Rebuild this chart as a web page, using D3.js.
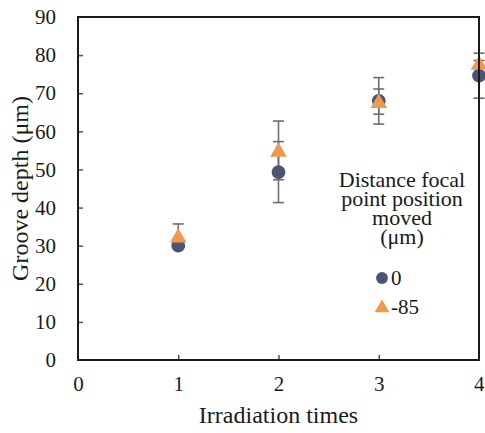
<!DOCTYPE html>
<html><head><meta charset="utf-8">
<script src="https://cdn.jsdelivr.net/npm/d3@7"></script>
<style>body{margin:0;background:#fff}svg{display:block}</style>
</head><body><svg id="c" width="485" height="433"></svg>
<script>
const irradiation = [1, 2, 3, 4];
const seriesNames = ["0", "-85"];
const depth0 = [30.0, 49.3, 68.0, 74.6];
const err0 = [0.5, 8.0, 6.1, 5.9];
const depth85 = [32.5, 55.0, 67.8, 77.8];
const err85 = [3.2, 7.7, 3.3, 0.8];
const xTicks = [0, 1, 2, 3, 4];
const yTicks = [0, 10, 20, 30, 40, 50, 60, 70, 80, 90];
const colors = ["#4a5574", "#ee9a4e"];
const FONT = "Liberation Serif";

const svg = d3.select("#c");
const L = 78, R = 479, T = 17, B = 360;
const x = d3.scaleLinear().domain([0, 4]).range([L, R]);
const y = d3.scaleLinear().domain([0, 90]).range([B, T]);

// ticks
const yAx = svg.append("g").attr("transform", `translate(${L},0)`)
  .call(d3.axisLeft(y).tickValues(yTicks).tickFormat(d3.format("d")).tickSizeInner(-5).tickSizeOuter(0).tickPadding(22));
const xAx = svg.append("g").attr("transform", `translate(0,${B})`)
  .call(d3.axisBottom(x).tickValues(xTicks).tickFormat(d3.format("d")).tickSizeInner(-5).tickSizeOuter(0).tickPadding(16));
[yAx, xAx].forEach(g => {
  g.attr("font-family", FONT).attr("font-size", 21);
  g.select(".domain").remove();
  g.selectAll("line").attr("stroke", "#555").attr("stroke-width", 1.5);
  g.selectAll("text").attr("fill", "#1a1a1a").attr("font-family", FONT);
});
yAx.selectAll(".tick").filter(d => d === 0 || d === 90).select("line").remove();
xAx.selectAll(".tick").filter(d => d === 0 || d === 4).select("line").remove();
xAx.selectAll(".tick").filter(d => d === 4).select("text").attr("text-anchor", "end").attr("dx", "5");

const series = [
  { name: seriesNames[0], v: depth0, e: err0, shape: d3.symbolCircle, size: 150 },
  { name: seriesNames[1], v: depth85, e: err85, shape: d3.symbolTriangle, size: 120 }
];

// error bars
series.forEach(s => {
  const g = svg.append("g");
  irradiation.forEach((t, i) => {
    const cx = x(t), y1 = y(s.v[i] + s.e[i]), y0 = y(s.v[i] - s.e[i]);
    g.append("line").attr("x1", cx).attr("x2", cx).attr("y1", y1).attr("y2", y0)
      .attr("stroke", "#6e6e6e").attr("stroke-width", 1.6);
    [y1, y0].forEach(yy => g.append("line").attr("x1", cx - 5.5).attr("x2", cx + 5.5)
      .attr("y1", yy).attr("y2", yy).attr("stroke", "#6e6e6e").attr("stroke-width", 1.6));
  });
});

// markers
series.forEach((s, k) => {
  svg.append("g").selectAll("path").data(irradiation).join("path")
    .attr("transform", (t, i) => `translate(${x(t)},${y(s.v[i]) + (k === 1 ? 1.5 : 0)})`)
    .attr("d", d3.symbol().type(s.shape).size(s.size))
    .attr("fill", colors[k]);
});

// frame
svg.append("rect").attr("x", L).attr("y", T).attr("width", R - L).attr("height", B - T)
  .attr("fill", "none").attr("stroke", "#1a1a1a").attr("stroke-width", 2);

// axis titles
svg.append("text").attr("x", (L + R) / 2).attr("y", 423).attr("text-anchor", "middle")
  .attr("font-family", FONT).attr("font-size", 24).attr("fill", "#1a1a1a").text("Irradiation times");
svg.append("text").attr("transform", `translate(28,${(T + B) / 2}) rotate(-90)`)
  .attr("text-anchor", "middle").attr("font-family", FONT).attr("font-size", 24)
  .attr("fill", "#1a1a1a").text("Groove depth (μm)");

// legend
const legTitle = ["Distance focal", "point position", "moved", "(μm)"];
svg.append("g").selectAll("text").data(legTitle).join("text")
  .attr("x", 402).attr("y", (d, i) => 187 + i * 19).attr("text-anchor", "middle")
  .attr("font-family", FONT).attr("font-size", 22).attr("fill", "#1a1a1a").text(d => d);
series.forEach((s, k) => {
  const ly = 278 + k * 29;
  svg.append("path").attr("transform", `translate(382,${ly + (k === 1 ? 1 : 0)})`)
    .attr("d", d3.symbol().type(s.shape).size(k === 0 ? 110 : 95)).attr("fill", colors[k]);
  svg.append("text").attr("x", 391).attr("y", ly + 7).attr("font-family", FONT).attr("font-size", 21)
    .attr("fill", "#1a1a1a").text(s.name);
});
</script></body></html>
